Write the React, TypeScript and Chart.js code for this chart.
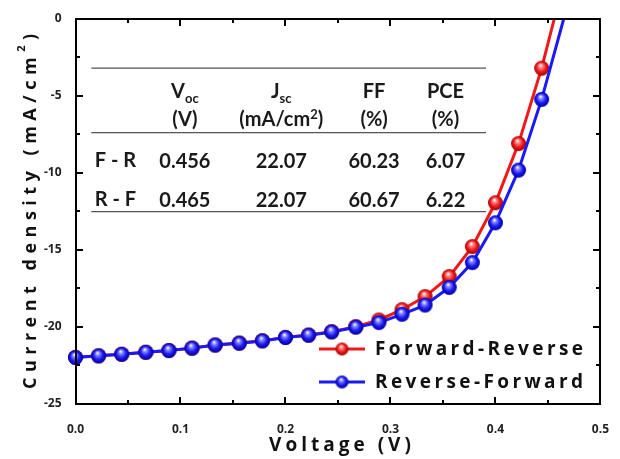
import React, { useEffect, useRef } from "react";
import { Chart, registerables } from "chart.js";

Chart.register(...registerables);

// ---- data ----
const voltage = [0, 0.022, 0.044, 0.067, 0.089, 0.111, 0.133, 0.156, 0.178, 0.2, 0.222, 0.244, 0.267, 0.289, 0.311, 0.333, 0.356, 0.378, 0.4, 0.422, 0.444];
const forwardReverse = [-22.0, -21.9, -21.8, -21.67, -21.55, -21.4, -21.2, -21.07, -20.92, -20.7, -20.55, -20.33, -20.0, -19.57, -18.9, -18.05, -16.75, -14.8, -11.95, -8.1, -3.2];
const reverseForward = [-22.01, -21.9, -21.8, -21.67, -21.56, -21.4, -21.2, -21.08, -20.93, -20.71, -20.56, -20.35, -20.04, -19.74, -19.2, -18.6, -17.45, -15.84, -13.25, -9.83, -5.23];
const openCircuitVoltage = [0.456, 0.465];
const seriesNames = ["Forward-Reverse", "Reverse-Forward"];

const xTicks = [0, 0.1, 0.2, 0.3, 0.4, 0.5];
const yTicks = [0, -5, -10, -15, -20, -25];

const tableRowLabels = ["F - R", "R - F"];
const tableVoc = ["0.456", "0.465"];
const tableJsc = ["22.07", "22.07"];
const tableFF = ["60.23", "60.67"];
const tablePCE = ["6.07", "6.22"];

const RED = "#f01818";
const BLUE = "#1a1af2";
const INK = "#000000";

function makeBall(base: string, light: string, dark: string, r: number) {
  const c = document.createElement("canvas");
  const s = Math.ceil(r * 2) + 2;
  c.width = s;
  c.height = s;
  const ctx = c.getContext("2d")!;
  const cx = s / 2, cy = s / 2;
  const g = ctx.createRadialGradient(cx - r * 0.15, cy - r * 0.4, r * 0.05, cx, cy, r);
  g.addColorStop(0, "#ffffff");
  g.addColorStop(0.22, light);
  g.addColorStop(0.62, base);
  g.addColorStop(1, dark);
  ctx.fillStyle = g;
  ctx.beginPath();
  ctx.arc(cx, cy, r, 0, Math.PI * 2);
  ctx.fill();
  return c;
}

function drawSpaced(ctx: CanvasRenderingContext2D, text: string, x: number, y: number, spacing: number) {
  (ctx as any).letterSpacing = spacing + "px";
  ctx.fillText(text, x, y);
  (ctx as any).letterSpacing = "0px";
}

function spacedWidth(ctx: CanvasRenderingContext2D, text: string, spacing: number) {
  (ctx as any).letterSpacing = spacing + "px";
  const w = ctx.measureText(text).width;
  (ctx as any).letterSpacing = "0px";
  return w;
}

export default function App() {
  const ref = useRef<HTMLCanvasElement | null>(null);

  useEffect(() => {
    document.body.style.margin = "0";
    const canvas = ref.current!;
    const ballR = makeBall(RED, "#ff8a8a", "#a00000", 7.5);
    const ballB = makeBall(BLUE, "#8a8aff", "#0000a0", 7.5);
    const legR = makeBall(RED, "#ff8a8a", "#a00000", 6.5);
    const legB = makeBall(BLUE, "#8a8aff", "#0000a0", 6.5);

    const toPts = (ys: number[], voc: number) =>
      voltage.map((v, i) => ({ x: v, y: ys[i] })).concat([{ x: voc, y: 0 }]);
    const n = voltage.length;

    const overlay = {
      id: "overlay",
      afterDraw(chart: any) {
        const ctx: CanvasRenderingContext2D = chart.ctx;
        const xs = chart.scales.x, ys = chart.scales.y;
        const X = (v: number) => xs.getPixelForValue(v);
        const Y = (v: number) => ys.getPixelForValue(v);
        const L = Math.round(X(0)), R = Math.round(X(0.5)), T = Math.round(Y(0)), B = Math.round(Y(-25));
        ctx.save();

        // ---- frame and inward ticks ----
        ctx.fillStyle = INK;
        ctx.fillRect(L - 1, T - 1, R - L + 2, 2);
        ctx.fillRect(L - 1, B - 1, R - L + 2, 2);
        ctx.fillRect(L - 1, T - 1, 2, B - T + 2);
        ctx.fillRect(R - 1, T - 1, 2, B - T + 2);
        for (let i = 1; i < 10; i++) {
          const px = Math.round(X(i * 0.05));
          const len = i % 2 === 0 ? 7 : 4;
          ctx.fillRect(px - 1, B - len, 2, len);
          ctx.fillRect(px - 1, T, 2, len);
        }
        for (let i = 1; i < 10; i++) {
          const py = Math.round(Y(-i * 2.5));
          const len = i % 2 === 0 ? 7 : 4;
          ctx.fillRect(L, py - 1, len, 2);
          ctx.fillRect(R - len, py - 1, len, 2);
        }

        // ---- table ----
        ctx.strokeStyle = "#555";
        ctx.lineWidth = 1.3;
        ctx.beginPath();
        [-3.2, -7.39, -12.53].forEach((yv) => {
          ctx.moveTo(X(0.015), Y(yv));
          ctx.lineTo(X(0.391), Y(yv));
        });
        ctx.stroke();

        const main = 'bold 20px "Lato", sans-serif';
        const small = 'bold 13px "Lato", sans-serif';
        ctx.fillStyle = "#1a1a1a";
        ctx.textBaseline = "alphabetic";
        const colX = [0.1042, 0.196, 0.2844, 0.3524];
        const row1 = Y(-5.12), row2 = Y(-6.96);

        const subText = (m: string, s: string, cx: number, by: number) => {
          ctx.font = main;
          const w1 = ctx.measureText(m).width;
          ctx.font = small;
          const w2 = ctx.measureText(s).width;
          const x0 = cx - (w1 + w2) / 2;
          ctx.textAlign = "left";
          ctx.font = main;
          ctx.fillText(m, x0, by);
          ctx.font = small;
          ctx.fillText(s, x0 + w1, by + 5);
        };
        subText("V", "oc", X(colX[0]), row1);
        subText("J", "sc", X(colX[1]), row1);
        ctx.font = main;
        ctx.textAlign = "center";
        ctx.fillText("FF", X(colX[2]), row1);
        ctx.fillText("PCE", X(colX[3]), row1);
        ctx.fillText("(V)", X(colX[0]), row2);
        ctx.fillText("(%)", X(colX[2]), row2);
        ctx.fillText("(%)", X(colX[3]), row2);
        {
          ctx.font = main;
          const a1 = "(mA/cm", a3 = ")";
          const w1 = ctx.measureText(a1).width, w3 = ctx.measureText(a3).width;
          ctx.font = small;
          const w2 = ctx.measureText("2").width;
          const x0 = X(colX[1]) - (w1 + w2 + w3) / 2;
          ctx.textAlign = "left";
          ctx.font = main;
          ctx.fillText(a1, x0, row2);
          ctx.font = small;
          ctx.fillText("2", x0 + w1, row2 - 7);
          ctx.font = main;
          ctx.fillText(a3, x0 + w1 + w2, row2);
        }
        const rowsY = [Y(-9.71), Y(-12.24)];
        rowsY.forEach((ry, i) => {
          ctx.font = main;
          ctx.textAlign = "left";
          ctx.fillText(tableRowLabels[i], X(0.0184), ry - 1);
          ctx.textAlign = "center";
          ctx.fillText(tableVoc[i], X(colX[0]), ry);
          ctx.fillText(tableJsc[i], X(colX[1]), ry);
          ctx.fillText(tableFF[i], X(colX[2]), ry);
          ctx.fillText(tablePCE[i], X(colX[3]), ry);
        });

        // ---- legend ----
        const legY = [349, 382];
        const colors = [RED, BLUE];
        const balls = [legR, legB];
        legY.forEach((ly, i) => {
          ctx.strokeStyle = colors[i];
          ctx.lineWidth = 3;
          ctx.beginPath();
          ctx.moveTo(319, ly);
          ctx.lineTo(365, ly);
          ctx.stroke();
          const b = balls[i];
          ctx.drawImage(b, 342 - b.width / 2, ly - b.height / 2);
          ctx.fillStyle = "#111";
          ctx.font = 'bold 19px "Open Sans", sans-serif';
          ctx.textAlign = "left";
          ctx.textBaseline = "middle";
          drawSpaced(ctx, seriesNames[i], 375, ly + 1, 3.4);
        });

        // ---- axis titles ----
        ctx.fillStyle = "#111";
        ctx.textBaseline = "alphabetic";
        ctx.textAlign = "left";
        ctx.font = 'bold 19px "Open Sans", sans-serif';
        {
          const t = "Voltage (V)";
          const sp = 4;
          const w = spacedWidth(ctx, t, sp) - sp;
          drawSpaced(ctx, t, (L + R) / 2 + 2 - w / 2, 451, sp);
        }
        {
          const sp = 5.5;
          const t1 = "Current density (mA/cm", t3 = ")";
          ctx.font = 'bold 18px "Open Sans", sans-serif';
          const w1 = spacedWidth(ctx, t1, sp), w3 = spacedWidth(ctx, t3, sp) - sp;
          ctx.font = 'bold 11px "Open Sans", sans-serif';
          const w2 = spacedWidth(ctx, "2", sp);
          const total = w1 + w2 + w3;
          ctx.translate(36, (T + B) / 2);
          ctx.rotate(-Math.PI / 2);
          const x0 = -total / 2;
          ctx.font = 'bold 18px "Open Sans", sans-serif';
          drawSpaced(ctx, t1, x0, 0, sp);
          ctx.font = 'bold 11px "Open Sans", sans-serif';
          drawSpaced(ctx, "2", x0 + w1, -11, sp);
          ctx.font = 'bold 18px "Open Sans", sans-serif';
          drawSpaced(ctx, t3, x0 + w1 + w2, 0, sp);
        }
        ctx.restore();
      },
    };

    const tickFont = { family: '"Open Sans", sans-serif', size: 12, weight: "bold" as const };

    const chart = new Chart(canvas, {
      type: "line",
      data: {
        datasets: [
          {
            label: seriesNames[0],
            data: toPts(forwardReverse, openCircuitVoltage[0]),
            borderColor: RED,
            borderWidth: 3,
            pointStyle: (c: any) => (c.dataIndex >= n ? false : ballR) as any,
            pointRadius: (c: any) => (c.dataIndex >= n ? 0 : 7.5),
            tension: 0,
            clip: false as any,
            order: 1,
          },
          {
            label: seriesNames[1],
            data: toPts(reverseForward, openCircuitVoltage[1]),
            borderColor: BLUE,
            borderWidth: 3,
            pointStyle: (c: any) => (c.dataIndex >= n ? false : ballB) as any,
            pointRadius: (c: any) => (c.dataIndex >= n ? 0 : 7.5),
            tension: 0,
            clip: false as any,
            order: 0,
          },
        ],
      },
      options: {
        animation: false,
        responsive: true,
        maintainAspectRatio: false,
        events: [],
        layout: { padding: { top: 19, right: 14.5, left: 0, bottom: 0 } },
        plugins: { legend: { display: false }, tooltip: { enabled: false } },
        scales: {
          x: {
            type: "linear",
            min: 0,
            max: 0.5,
            afterFit: (s: any) => { s.height = 55.5; },
            afterBuildTicks: (s: any) => { s.ticks = xTicks.map((v) => ({ value: v })); },
            grid: { display: false },
            border: { display: false },
            ticks: {
              padding: 11,
              color: "#222",
              font: tickFont,
              callback: (v: any) => Number(v).toFixed(1),
            },
          },
          y: {
            type: "linear",
            min: -25,
            max: 0,
            afterFit: (s: any) => { s.width = 75.5; },
            afterBuildTicks: (s: any) => { s.ticks = yTicks.map((v) => ({ value: v })); },
            grid: { display: false },
            border: { display: false },
            ticks: {
              padding: 6,
              color: "#222",
              font: tickFont,
              callback: (v: any) => String(v),
            },
          },
        },
      },
      plugins: [overlay],
    });
    return () => chart.destroy();
  }, []);

  return (
    <div style={{ width: 620, height: 459, position: "relative", background: "#fff" }}>
      <canvas ref={ref} />
    </div>
  );
}
